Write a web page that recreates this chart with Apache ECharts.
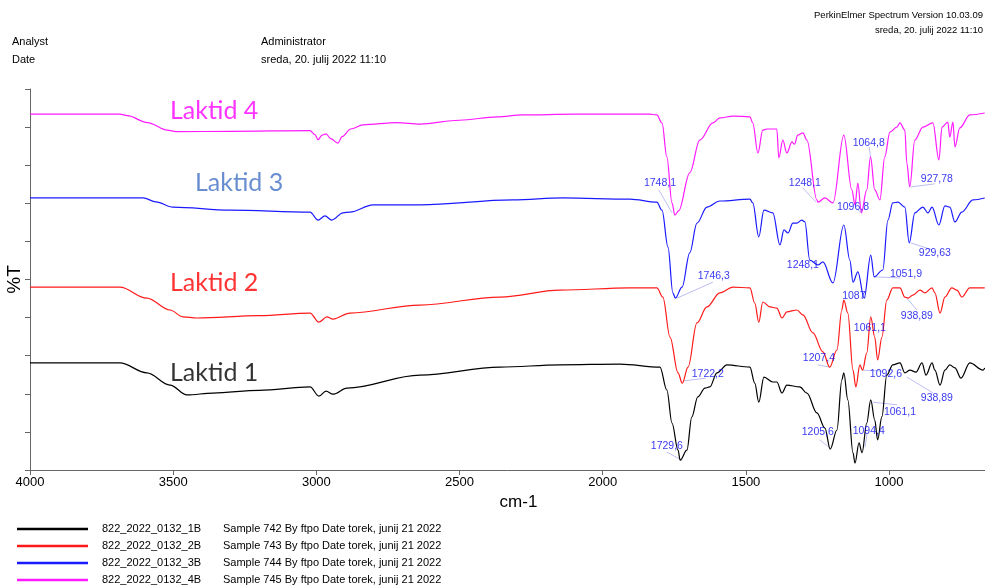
<!DOCTYPE html>
<html><head><meta charset="utf-8">
<script src="https://cdn.jsdelivr.net/npm/echarts@6/dist/echarts.min.js"></script>
<style>html,body{margin:0;padding:0;background:#fff}#c{width:985px;height:588px}</style>
</head><body><div id="c"></div>
<script>
// ---- data (wavenumber cm-1, %T on an arbitrary stacked scale) ----
const seriesNames = ['822_2022_0132_1B','822_2022_0132_2B','822_2022_0132_3B','822_2022_0132_4B'];
const seriesDescs = ['Sample 742 By ftpo Date torek, junij 21 2022','Sample 743 By ftpo Date torek, junij 21 2022','Sample 744 By ftpo Date torek, junij 21 2022','Sample 745 By ftpo Date torek, junij 21 2022'];
const xTicks = [4000,3500,3000,2500,2000,1500,1000];

const spec1 = [[4000,28.1],[3686,28.1],[3592,25.5],[3511,22.3],[3452,19.7],[3361,20.2],[3200,20.9],[3022,21.8],[2991,19.4],[2966,20.7],[2942,19.9],[2893,21.5],[2638,24.9],[2359,27.0],[2149,27.6],[1940,27.8],[1800,27.0],[1776,21.0],[1758,12.3],[1737,5.2],[1729.6,2.6],[1706,5.2],[1689,13.9],[1668,19.2],[1643,21.5],[1626,21.8],[1601,25.5],[1566,27.6],[1486,27.0],[1469,22.8],[1455,17.8],[1437,24.4],[1406,23.1],[1392,23.1],[1374,20.2],[1357,22.3],[1312,21.8],[1287,20.2],[1252,15.0],[1224,11.0],[1205.6,5.5],[1182,10.5],[1165,23.6],[1158,25.5],[1144,18.4],[1126,4.5],[1119,1.8],[1105,7.1],[1094.4,4.5],[1078,12.3],[1064,18.4],[1050,13.1],[1040,7.9],[1025,14.0],[1008,24.9],[987,27.6],[962,28.1],[945,25.5],[927,26.2],[906,25.7],[885,28.1],[871,24.9],[850,28.1],[840,26.2],[822,22.3],[805,26.2],[788,27.6],[770,26.8],[749,24.1],[718,28.1],[672,26.2],[666,26.8]];
const spec2 = [[4000,48.0],[3686,48.0],[3592,45.1],[3511,42.0],[3466,40.2],[3417,39.9],[3200,40.5],[3022,41.2],[2991,38.8],[2963,40.2],[2942,39.6],[2883,41.2],[2638,43.3],[2359,45.4],[2149,47.2],[1905,47.8],[1811,47.8],[1790,45.4],[1765,34.9],[1737,25.5],[1722.2,22.8],[1702,27.0],[1671,38.6],[1636,42.8],[1591,46.5],[1545,48.0],[1486,47.8],[1469,43.8],[1455,38.8],[1441,44.1],[1416,42.8],[1392,42.5],[1374,39.9],[1357,41.5],[1322,42.0],[1301,40.7],[1266,36.0],[1231,31.0],[1207.4,27.0],[1182,31.5],[1165,42.0],[1158,44.6],[1144,41.2],[1126,26.2],[1116,21.8],[1102,27.6],[1092.6,26.2],[1078,30.7],[1064,40.2],[1050,34.9],[1040,28.9],[1025,34.9],[1008,44.6],[987,47.8],[962,47.8],[945,45.4],[934,45.1],[917,45.9],[892,47.2],[875,46.5],[850,47.8],[840,46.5],[822,41.2],[805,45.4],[781,47.8],[763,47.2],[746,45.4],[718,47.8],[666,47.8]];
const spec3 = [[4000,71.4],[3605,71.4],[3560,70.4],[3501,69.0],[3300,68.2],[3022,67.7],[2994,65.6],[2970,66.7],[2946,65.6],[2907,67.5],[2883,67.7],[2802,69.6],[2638,69.6],[2314,70.9],[2139,71.4],[1905,71.1],[1811,70.3],[1793,68.2],[1772,58.5],[1755,46.5],[1746.3,45.1],[1723,48.0],[1696,57.0],[1671,64.8],[1636,69.0],[1591,70.6],[1486,71.1],[1476,70.1],[1455,61.2],[1437,68.2],[1406,67.5],[1381,59.1],[1367,63.0],[1353,62.2],[1336,64.8],[1322,64.8],[1305,65.6],[1294,65.1],[1277,55.1],[1248.1,53.8],[1231,54.6],[1196,49.1],[1158,64.3],[1137,55.1],[1126,49.3],[1109,52.0],[1087,45.1],[1064,56.4],[1051.9,50.7],[1022,52.5],[1004,65.6],[987,70.1],[969,70.3],[945,69.0],[929.6,59.6],[910,67.5],[882,69.0],[864,67.5],[850,69.0],[826,64.3],[805,69.3],[788,69.0],[770,65.1],[746,67.7],[707,70.9],[666,71.4]];
const spec4 = [[4000,93.4],[3686,93.4],[3660,93.0],[3590,91.2],[3520,89.2],[3490,88.8],[3300,88.9],[3022,89.1],[3005,88.0],[2994,86.7],[2980,87.9],[2966,88.2],[2950,87.0],[2925,85.8],[2910,87.5],[2880,89.5],[2837,90.6],[2719,91.2],[2638,90.8],[2500,91.8],[2369,92.7],[2279,93.2],[2100,93.4],[1905,93.4],[1835,93.4],[1811,93.2],[1793,91.1],[1776,82.2],[1758,70.1],[1748.1,66.9],[1735,68.0],[1696,78.0],[1661,86.6],[1615,91.1],[1591,92.4],[1545,92.9],[1486,92.7],[1476,91.1],[1458,83.2],[1441,89.2],[1427,89.5],[1392,89.5],[1385,81.9],[1371,86.6],[1357,83.2],[1339,86.1],[1330,85.5],[1319,87.9],[1301,88.5],[1287,86.6],[1252,70.9],[1248.1,70.3],[1224,71.4],[1196,70.1],[1158,87.9],[1130,73.5],[1119,69.6],[1109,75.3],[1096.8,67.5],[1078,73.5],[1064.8,82.2],[1050,73.5],[1032,70.9],[1015,82.2],[997,88.7],[973,90.0],[962,91.1],[945,89.2],[938,80.6],[927.8,74.3],[910,86.6],[882,90.0],[847,91.1],[826,81.4],[815,90.0],[795,91.3],[788,87.4],[777,91.3],[770,84.8],[753,89.8],[718,93.2],[666,93.7]];

// peak annotations: [leader start w, v, leader end w, v]
const annoLines = [
  [1758,67.5,1804,73.5],[1255,70.3,1301,74.0],[1097,67.5,1115,68.6],[1065,82.2,1069,84.8],[924,74.3,840,75.1],
  [1741,45.1,1615,49.3],[1087,45.1,1080,45.5],[1050,50.7,960,50.4],[924,59.6,850,57.8],
  [938,45.1,903,42.0],[1249,27.6,1207,27.0],[1716,23.4,1640,24.1],[1092,26.2,1025,26.0],
  [938,24.4,846,20.2],[1057,17.8,971,17.1],[1084,6.0,1077,9.4],[1242,7.9,1207,5.8],[1776,4.7,1724,2.6]
];
// annotation text: [w, v, text]
const annoTexts = [
  [1800,75.3,'1748,1'],[1294,75.3,'1248,1'],[1126,69.0,'1096,8'],[1071,85.8,'1064,8'],[833,76.4,'927,78'],
  [1612,50.9,'1746,3'],[1301,53.8,'1248,1'],[1123,45.7,'1087'],[941,51.4,'1051,9'],[840,57.0,'929,63'],
  [903,40.4,'938,89'],[1067,37.3,'1061,1'],[1245,29.4,'1207,4'],[1633,25.2,'1722,2'],[1011,25.2,'1092,6'],
  [833,18.9,'938,89'],[962,15.2,'1061,1'],[1071,10.2,'1094,4'],[1249,10.0,'1205,6'],[1776,6.3,'1729,6']
];
// sample names drawn on the plot: [w, v, text]
const sampleLabels = [[3511,25.5,'Laktid 1'],[3511,49.1,'Laktid 2'],[3424,75.3,'Laktid 3'],[3511,94.2,'Laktid 4']];

const colors = ['#000000','#ff1a1a','#1a1aff','#ff1aff'];
const labelColors = ['#000000','#ff0000','#4472c4','#ff00ff'];

const chart = echarts.init(document.getElementById('c'), null, {renderer:'canvas'});
const FONT = 'Liberation Sans, Arial, sans-serif';

const specs = [spec1,spec2,spec3,spec4];
const series = specs.map((d,i)=>({
  name: seriesNames[i], type:'line', data:d, showSymbol:false, symbol:'none',
  smooth:0.35, smoothMonotone:'x',
  lineStyle:{color:colors[i], width:1.2}, itemStyle:{color:colors[i]},
  z: 3, animation:false
}));
series.push({
  type:'lines', coordinateSystem:'cartesian2d', silent:true, z:2, animation:false,
  lineStyle:{color:'#bdbdf2', width:1, opacity:1},
  data: annoLines.map(a=>({coords:[[a[0],a[1]],[a[2],a[3]]]}))
});
series.push({
  type:'scatter', symbolSize:0, silent:true, z:4, animation:false,
  data: annoTexts.map(a=>({value:[a[0],a[1]], name:a[2]})),
  label:{show:true, position:'inside', formatter:p=>p.name, color:'#0000ee', fontSize:10.5, fontFamily:FONT}
});
series.push({
  type:'scatter', symbolSize:0, silent:true, z:4, animation:false,
  data: sampleLabels.map((a,i)=>({value:[a[0],a[1]], name:a[2], label:{color:labelColors[i]}})),
  label:{show:true, position:'right', distance:0, formatter:p=>p.name, fontSize:25, fontFamily:'Lato, Open Sans, sans-serif'}
});

chart.setOption({
  animation:false,
  grid:{left:30, right:0, top:89, bottom:118, containLabel:false, outerBoundsMode:'none'},
  xAxis:{
    type:'value', inverse:true, min:665, max:4000,
    axisLine:{show:true, onZero:false, lineStyle:{color:'#666', width:1}},
    axisTick:{show:true, length:5, customValues:xTicks, lineStyle:{color:'#666'}},
    axisLabel:{show:true, customValues:xTicks, formatter:v=>String(v), color:'#000', fontSize:13, fontFamily:FONT, margin:6},
    splitLine:{show:false},
    name:'cm-1', nameLocation:'middle', nameGap:19, nameTextStyle:{color:'#000', fontSize:17, fontFamily:FONT, padding:[0,0,0,22]}
  },
  yAxis:{
    type:'value', min:0, max:100, interval:10,
    axisLine:{show:true, lineStyle:{color:'#666', width:1}},
    axisTick:{show:true, length:5, inside:false, lineStyle:{color:'#666'}},
    axisLabel:{show:false}, splitLine:{show:false},
    name:'%T', nameLocation:'middle', nameGap:6, nameTextStyle:{color:'#000', fontSize:19, fontFamily:FONT}
  },
  legend:{
    orient:'vertical', left:12, top:517, height:80, itemWidth:71, itemHeight:2.5, itemGap:3, icon:'rect',
    data: seriesNames, selectedMode:false,
    formatter: name => '{a|' + name + '}{b|' + seriesDescs[seriesNames.indexOf(name)] + '}',
    textStyle:{color:'#000', fontSize:11, fontFamily:FONT, lineHeight:14, padding:[0,0,0,9],
      rich:{a:{width:121, fontSize:11, fontFamily:FONT, color:'#000'}, b:{fontSize:11, fontFamily:FONT, color:'#000'}}}
  },
  graphic:[
    {type:'text', right:2, top:10, style:{text:'PerkinElmer Spectrum Version 10.03.09', font:'9.5px '+FONT, fill:'#000'}},
    {type:'text', right:2, top:25, style:{text:'sreda, 20. julij 2022 11:10', font:'9.5px '+FONT, fill:'#000'}},
    {type:'text', left:12, top:36, style:{text:'Analyst', font:'11px '+FONT, fill:'#000'}},
    {type:'text', left:12, top:54, style:{text:'Date', font:'11px '+FONT, fill:'#000'}},
    {type:'text', left:261, top:36, style:{text:'Administrator', font:'11px '+FONT, fill:'#000'}},
    {type:'text', left:261, top:54, style:{text:'sreda, 20. julij 2022 11:10', font:'11px '+FONT, fill:'#000'}}
  ],
  series: series
});
</script></body></html>
